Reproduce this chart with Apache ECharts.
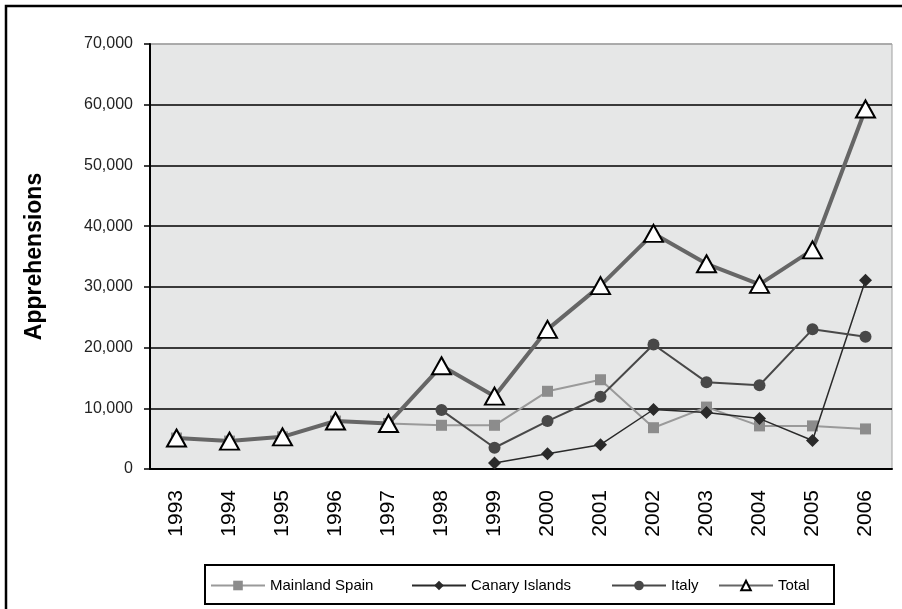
<!DOCTYPE html>
<html>
<head>
<meta charset="utf-8">
<script src="https://cdn.jsdelivr.net/npm/echarts@6/dist/echarts.min.js"></script>
<style>
  html, body { margin: 0; padding: 0; background: #fff; }
  #chart { width: 902px; height: 609px; }
</style>
</head>
<body>
<div id="chart"></div>
<script>
const years = ['1993', '1994', '1995', '1996', '1997', '1998', '1999', '2000', '2001', '2002', '2003', '2004', '2005', '2006']
const mainlandSpain = [5100, 4600, 5300, 7900, 7500, 7200, 7200, 12800, 14700, 6800, 10200, 7100, 7100, 6600]
const canaryIslands = [null, null, null, null, null, null, 1000, 2500, 4000, 9800, 9300, 8300, 4700, 31100]
const italy = [null, null, null, null, null, 9700, 3500, 7900, 11900, 20500, 14300, 13800, 23000, 21800]
const total = [5100, 4600, 5300, 7900, 7500, 17000, 12000, 23000, 30200, 38800, 33800, 30400, 36100, 59300]
const yTicks = [0, 10000, 20000, 30000, 40000, 50000, 60000, 70000]
const seriesNames = ['Mainland Spain', 'Canary Islands', 'Italy', 'Total']

const chart = echarts.init(document.getElementById('chart'))

const font = 'Liberation Sans, Arial, sans-serif'

// one legend per entry so the items sit where they sit in the original
const legendLeft = [210, 411, 611, 718]
const legends = seriesNames.map((name, i) => ({
  left: legendLeft[i],
  top: 578,
  padding: 0,
  itemWidth: 54,
  itemHeight: 12,
  textStyle: { fontSize: 15, color: '#000', fontFamily: font },
  data: [name]
}))

chart.setOption({
  animation: false,
  backgroundColor: '#fff',
  textStyle: { fontFamily: font },
  graphic: [
    {
      type: 'rect',
      shape: { x: 6, y: 6, width: 1000, height: 1000 },
      style: { fill: 'none', stroke: '#000', lineWidth: 2.5 }
    },
    {
      type: 'rect',
      shape: { x: 205, y: 565, width: 629, height: 39 },
      style: { fill: '#fff', stroke: '#000', lineWidth: 2 },
      z: 0
    }
  ],
  grid: {
    left: 150,
    right: 10,
    top: 44,
    bottom: 140,
    show: true,
    backgroundColor: '#e6e7e7',
    borderColor: '#a0a0a0',
    borderWidth: 1
  },
  legend: legends,
  xAxis: {
    type: 'category',
    data: years,
    boundaryGap: true,
    axisLine: { lineStyle: { color: '#000', width: 2 } },
    axisTick: { length: 8, lineStyle: { color: '#000', width: 1.5 } },
    axisLabel: { rotate: 90, fontSize: 21, color: '#000', margin: 21 },
    splitLine: { show: false }
  },
  yAxis: {
    type: 'value',
    min: 0,
    max: 70000,
    interval: 10000,
    name: 'Apprehensions',
    nameLocation: 'middle',
    nameGap: 104,
    nameTextStyle: { fontSize: 23, fontWeight: 'bold', color: '#000' },
    axisLine: { show: true, lineStyle: { color: '#000', width: 2 } },
    axisTick: { show: true, length: 6, lineStyle: { color: '#000', width: 1.5 } },
    axisLabel: {
      fontSize: 16,
      color: '#222',
      margin: 17,
      formatter: v => yTicks.includes(v) ? v.toLocaleString('en-US') : ''
    },
    splitLine: {
      lineStyle: {
        color: ['#000', '#000', '#000', '#000', '#000', '#000', '#000', '#a0a0a0'],
        width: 1.5
      }
    }
  },
  series: [
    {
      name: 'Mainland Spain',
      type: 'line',
      data: mainlandSpain,
      symbol: 'rect',
      symbolSize: 11,
      itemStyle: { color: '#8c8c8c' },
      lineStyle: { color: '#9a9a9a', width: 2 },
      z: 2
    },
    {
      name: 'Canary Islands',
      type: 'line',
      data: canaryIslands,
      symbol: 'diamond',
      symbolSize: 13,
      itemStyle: { color: '#2a2a2a' },
      lineStyle: { color: '#2a2a2a', width: 1.5 },
      z: 3
    },
    {
      name: 'Italy',
      type: 'line',
      data: italy,
      symbol: 'circle',
      symbolSize: 12,
      itemStyle: { color: '#484848' },
      lineStyle: { color: '#484848', width: 2 },
      z: 4
    },
    {
      name: 'Total',
      type: 'line',
      data: total,
      symbol: 'triangle',
      symbolSize: [19, 17],
      itemStyle: { color: '#fff', borderColor: '#000', borderWidth: 2 },
      lineStyle: { color: '#666', width: 4 },
      z: 5
    }
  ]
})
</script>
</body>
</html>
